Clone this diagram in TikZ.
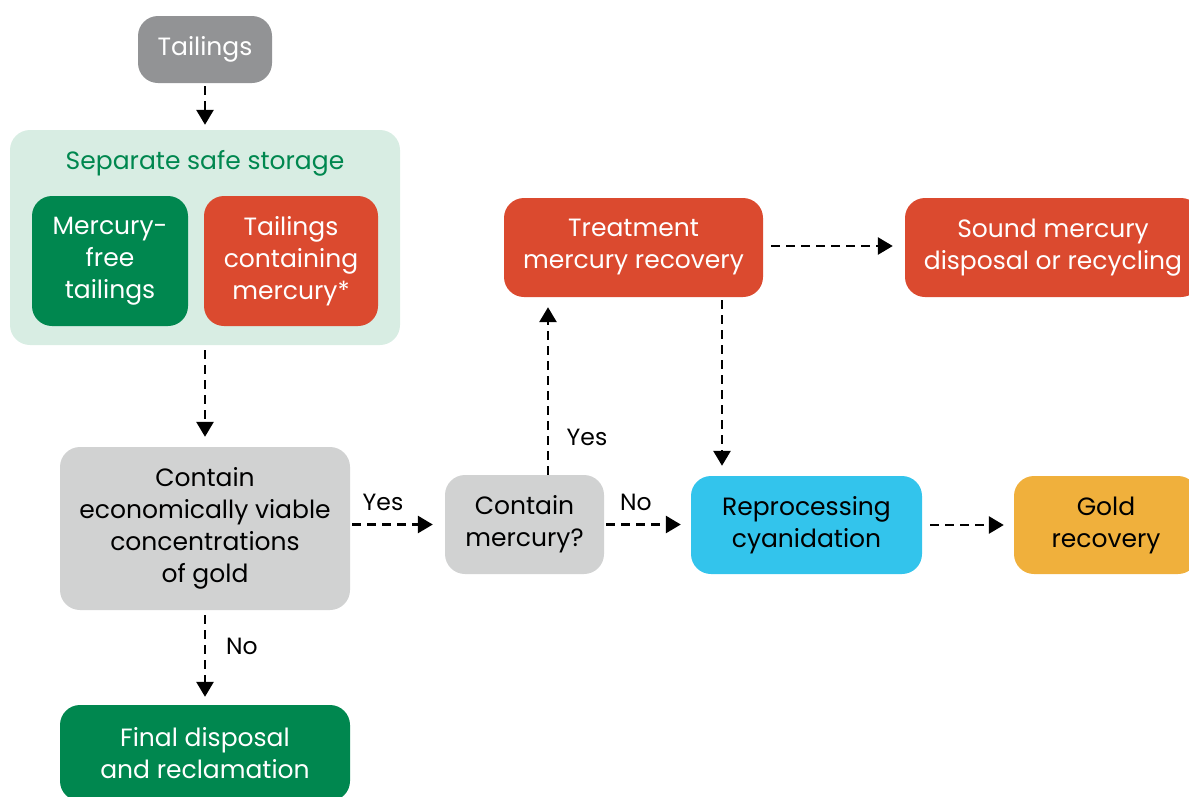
\documentclass[tikz,border=0pt]{standalone}
\usepackage{fontspec}
\setmainfont{Poppins}
\usetikzlibrary{arrows.meta}
\definecolor{cgray}{HTML}{929395}
\definecolor{cmint}{HTML}{D8EDE3}
\definecolor{cgreen}{HTML}{00874F}
\definecolor{cred}{HTML}{DB4A2F}
\definecolor{clight}{HTML}{D1D2D2}
\definecolor{cblue}{HTML}{33C4EC}
\definecolor{corange}{HTML}{F0B03C}
\tikzset{
  box/.style={rounded corners=20pt, inner sep=0pt, align=center, font=\fontsize{25}{32}\selectfont},
  arr/.style={line width=2.8pt, dash pattern=on 9pt off 6pt, -{Triangle[length=15pt,width=17pt]}},
  lbl/.style={font=\fontsize{23.5}{28}\selectfont, inner sep=0pt}
}
\begin{document}
\begin{tikzpicture}[x=1pt,y=-1pt]
\useasboundingbox (0,0) rectangle (1189,796);
% nodes
\node[box, fill=cgray, text=white, minimum width=134pt, minimum height=67pt] (tail) at (205,49.5) {Tailings};
\node[box, fill=cmint, minimum width=390pt, minimum height=215pt] (store) at (205,237.5) {};
\node[font=\fontsize{25}{32}\selectfont, text=cgreen, inner sep=0pt] (storet) at (205,163) {Separate safe storage};
\node[box, fill=cgreen, text=white, minimum width=156pt, minimum height=130pt] (free) at (110,261) {Mercury-\\free\\tailings};
\node[box, fill=cred, text=white, minimum width=174pt, minimum height=130pt] (cont) at (291,261) {Tailings\\containing\\mercury*};
\node[box, fill=clight, minimum width=290pt, minimum height=163pt] (econ) at (205,528.5) {Contain\\economically viable\\concentrations\\of gold};
\node[box, fill=cgreen, text=white, minimum width=290pt, minimum height=96pt] (final) at (205,753) {Final disposal\\and reclamation};
\node[box, fill=clight, minimum width=159pt, minimum height=99pt] (hg) at (524.5,524.5) {Contain\\mercury?};
\node[box, fill=cred, text=white, minimum width=259pt, minimum height=99pt] (treat) at (633.5,247.5) {Treatment\\mercury recovery};
\node[box, fill=cred, text=white, minimum width=296pt, minimum height=99pt] (sound) at (1053,247.5) {Sound mercury\\disposal or recycling};
\node[box, fill=cblue, minimum width=231pt, minimum height=98pt] (repro) at (806.5,525) {Reprocessing\\cyanidation};
\node[box, fill=corange, minimum width=184pt, minimum height=98pt] (gold) at (1106,525) {Gold\\recovery};
% connectors
\draw[arr, shorten <=3pt, shorten >=5pt] (tail.south) -- (store.north);
\draw[arr, shorten <=5pt, shorten >=10pt] (store.south) -- (econ.north);
\draw[arr, shorten <=5pt, shorten >=8pt] (econ.south) -- (final.north);
\node[lbl] (no1) at (242,646) {No};
\draw[arr, shorten <=2pt, shorten >=12pt] (econ.east |- hg.east) -- (hg.west);
\node[lbl] (yes1) at (383,502) {Yes};
\draw[arr, shorten <=2pt, shorten >=10pt] (hg.east) -- (repro.west |- hg.east);
\node[lbl] (no2) at (636,502) {No};
\coordinate (hgup) at ([xshift=23.5pt]hg.north);
\draw[arr, shorten >=10pt] (hgup) -- (treat.south -| hgup);
\node[lbl] (yes2) at (587,437) {Yes};
\coordinate (trdn) at ([xshift=88.5pt]treat.south);
\draw[arr, shorten <=3pt, shorten >=10pt] (trdn) -- (repro.north -| trdn);
\draw[arr, shorten <=8pt, shorten >=12pt] ([yshift=1.5pt]treat.east) -- ([yshift=1.5pt]sound.west);
\draw[arr, shorten <=8pt, shorten >=10pt] (repro.east) -- (gold.west);
\end{tikzpicture}
\end{document}
